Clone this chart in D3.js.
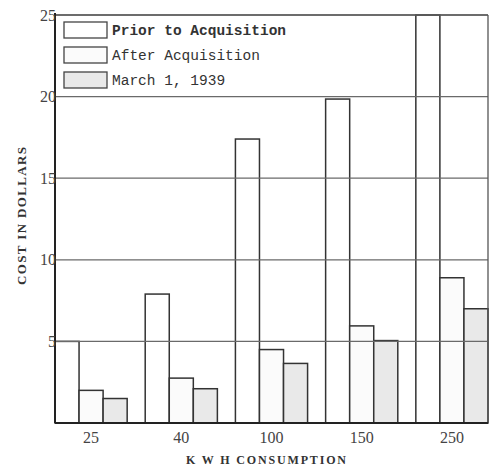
<!DOCTYPE html>
<html>
<head>
<meta charset="utf-8">
<script src="https://cdn.jsdelivr.net/npm/d3@7"></script>
<style>
body { margin: 0; background: #fff; }
</style>
</head>
<body>
<svg id="chart" width="498" height="468"></svg>
<script>
// values (dollars)
var categories = ["25", "40", "100", "150", "250"];
var seriesNames = ["Prior to Acquisition", "After Acquisition", "March 1, 1939"];
var priorValues = [5.0, 7.9, 17.4, 19.85, 25];
var afterValues = [2.0, 2.75, 4.5, 5.95, 8.9];
var marchValues = [1.5, 2.1, 3.65, 5.05, 7.0];
var yTicks = [5, 10, 15, 20, 25];

var fills = ["#ffffff", "#fbfbfb", "#e9e9e9"];

var svg = d3.select("#chart"),
	margin = {left: 55, right: 10, top: 15, bottom: 45},
	width = +svg.attr("width"),
	height = +svg.attr("height");

var x0 = d3.scaleBand()
	.domain(categories)
	.range([margin.left, width - margin.right])
	.paddingInner(0.2)
	.paddingOuter(0);

var x1 = d3.scaleBand()
	.domain(seriesNames)
	.range([0, x0.bandwidth()]);

var y = d3.scaleLinear()
	.domain([0, 25])
	.range([height - margin.bottom, margin.top]);

var rows = categories.map(function(c, i) {
	return {cat: c, values: [priorValues[i], afterValues[i], marchValues[i]]};
});

// bars
var g_bar = svg.append("g");
var groups = g_bar.selectAll("g").data(rows).enter().append("g")
	.attr("transform", function(d) { return "translate(" + x0(d.cat) + ",0)"; });
groups.selectAll("rect")
	.data(function(d) {
		return d.values.map(function(v, j) { return {name: seriesNames[j], value: v, idx: j}; });
	})
	.enter().append("rect")
	.attr("x", function(d) { return x1(d.name); })
	.attr("width", x1.bandwidth())
	.attr("y", function(d) { return y(d.value); })
	.attr("height", function(d) { return y(0) - y(d.value); })
	.attr("fill", function(d) { return fills[d.idx]; })
	.attr("stroke", "#333")
	.attr("stroke-width", 1.5);

// gridlines run across the bars in the original
svg.append("g").selectAll("line")
	.data(yTicks).enter().append("line")
	.attr("x1", margin.left).attr("x2", width - margin.right)
	.attr("y1", function(d) { return y(d); })
	.attr("y2", function(d) { return y(d); })
	.attr("stroke", "#6a6a6a")
	.attr("stroke-width", 1.2);

// frame
svg.append("line")
	.attr("x1", margin.left).attr("x2", width - margin.right)
	.attr("y1", y(25)).attr("y2", y(25))
	.attr("stroke", "#555").attr("stroke-width", 1.3);
svg.append("line")
	.attr("x1", width - margin.right).attr("x2", width - margin.right)
	.attr("y1", y(25)).attr("y2", y(0))
	.attr("stroke", "#555").attr("stroke-width", 1.3);
svg.append("line")
	.attr("x1", margin.left).attr("x2", margin.left)
	.attr("y1", y(25) - 2).attr("y2", y(0))
	.attr("stroke", "#222").attr("stroke-width", 2);
svg.append("line")
	.attr("x1", margin.left).attr("x2", width - margin.right)
	.attr("y1", y(0)).attr("y2", y(0))
	.attr("stroke", "#222").attr("stroke-width", 2);

// y tick labels
svg.append("g").selectAll("text")
	.data(yTicks).enter().append("text")
	.attr("x", margin.left + 1)
	.attr("y", function(d) { return y(d); })
	.attr("dy", "0.35em")
	.attr("text-anchor", "end")
	.attr("font-family", "Liberation Serif")
	.attr("font-size", 16)
	.attr("fill", "#444")
	.text(function(d) { return d; });

// x tick labels
svg.append("g").selectAll("text")
	.data(categories).enter().append("text")
	.attr("x", function(d) { return x0(d) + x0.bandwidth() / 2; })
	.attr("y", y(0) + 20)
	.attr("text-anchor", "middle")
	.attr("font-family", "Liberation Serif")
	.attr("font-size", 16)
	.attr("fill", "#444")
	.text(function(d) { return d; });

// axis titles
svg.append("text")
	.attr("x", 266).attr("y", 464)
	.attr("text-anchor", "middle")
	.attr("font-family", "Liberation Serif")
	.attr("font-weight", "bold")
	.attr("font-size", 12)
	.attr("fill", "#333")
	.attr("textLength", 160)
	.attr("lengthAdjust", "spacing")
	.text("K W H CONSUMPTION");

svg.append("text")
	.attr("transform", "translate(26,216) rotate(-90)")
	.attr("text-anchor", "middle")
	.attr("font-family", "Liberation Serif")
	.attr("font-weight", "bold")
	.attr("font-size", 13)
	.attr("fill", "#333")
	.attr("textLength", 138)
	.attr("lengthAdjust", "spacing")
	.text("COST IN DOLLARS");

// legend
var legend = svg.append("g").selectAll("g")
	.data(seriesNames).enter().append("g")
	.attr("transform", function(d, i) { return "translate(64," + (22 + i * 25) + ")"; });
legend.append("rect")
	.attr("width", 43).attr("height", 16)
	.attr("fill", function(d, i) { return fills[i]; })
	.attr("stroke", "#444")
	.attr("stroke-width", 1.3);
legend.append("text")
	.attr("x", 48).attr("y", 13)
	.attr("font-family", "Liberation Mono")
	.attr("font-size", 14.5)
	.attr("font-weight", function(d, i) { return i == 0 ? "bold" : "normal"; })
	.attr("fill", "#333")
	.text(function(d) { return d; });
</script>
</body>
</html>
